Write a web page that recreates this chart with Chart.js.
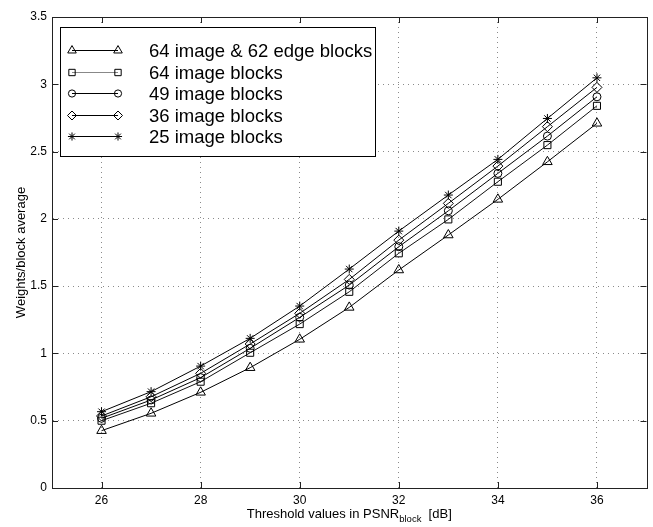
<!DOCTYPE html>
<html><head><meta charset="utf-8">
<script src="https://cdn.jsdelivr.net/npm/chart.js@4"></script>
<style>html,body{margin:0;padding:0;background:#fff;}#wrap{width:653px;height:527px;position:relative;}</style>
</head><body><div id="wrap"><canvas id="c" width="653" height="527"></canvas></div>
<script>
const thresholds = [26, 27, 28, 29, 30, 31, 32, 33, 34, 35, 36];
const blocks64edge = [0.426, 0.555, 0.711, 0.894, 1.105, 1.342, 1.620, 1.880, 2.145, 2.424, 2.710];
const blocks64 = [0.500, 0.630, 0.790, 1.005, 1.218, 1.458, 1.744, 1.996, 2.276, 2.548, 2.840];
const blocks49 = [0.518, 0.654, 0.820, 1.038, 1.268, 1.508, 1.793, 2.060, 2.338, 2.615, 2.907];
const blocks36 = [0.535, 0.678, 0.852, 1.070, 1.298, 1.550, 1.842, 2.115, 2.392, 2.685, 2.977];
const blocks25 = [0.567, 0.716, 0.906, 1.112, 1.352, 1.627, 1.909, 2.177, 2.442, 2.746, 3.048];
const seriesLabels = ['64 image & 62 edge blocks', '64 image blocks', '49 image blocks', '36 image blocks', '25 image blocks'];
const xTickValues = [26, 28, 30, 32, 34, 36];
const yTickValues = [0, 0.5, 1, 1.5, 2, 2.5, 3, 3.5];
const xTitle = 'Threshold values in PSNR';
const xTitleSub = 'block';
const xTitleTail = '[dB]';
const yTitle = 'Weights/block average';

const FONT = '"Liberation Sans", Arial, Helvetica, sans-serif';
const seriesValues = [blocks64edge, blocks64, blocks49, blocks36, blocks25];
const styles = [
  {pointStyle: 'triangle', radius: 5.5, color: '#000', legendColor: '#000'},
  {pointStyle: 'rect', radius: 5, color: '#111', legendColor: '#888'},
  {pointStyle: 'circle', radius: 4, color: '#000', legendColor: '#000'},
  {pointStyle: 'rectRot', radius: 5, color: '#000', legendColor: '#000'},
  {pointStyle: 'star', radius: 4.5, color: '#000', legendColor: '#000'}
];

const datasets = seriesValues.map((vals, i) => ({
  label: seriesLabels[i],
  data: thresholds.map((t, j) => ({x: t, y: vals[j]})),
  borderColor: styles[i].color,
  borderWidth: 1,
  backgroundColor: 'rgba(0,0,0,0)',
  pointStyle: styles[i].pointStyle,
  pointRadius: styles[i].radius,
  pointHoverRadius: styles[i].radius,
  pointBorderColor: '#000',
  pointBackgroundColor: 'rgba(0,0,0,0)',
  pointBorderWidth: 1,
  tension: 0,
  fill: false
}));

const framePlugin = {
  id: 'matlabFrame',
  afterDatasetsDraw(chart) {
    const ctx = chart.ctx;
    const a = chart.chartArea;
    const xs = chart.scales.x, ys = chart.scales.y;
    ctx.save();
    ctx.strokeStyle = '#222';
    ctx.lineWidth = 1;
    ctx.setLineDash([]);
    ctx.strokeRect(Math.round(a.left) + 0.5, Math.round(a.top) + 0.5, Math.round(a.right - a.left), Math.round(a.bottom - a.top));
    const tl = 6;
    ctx.beginPath();
    xTickValues.forEach(v => {
      const px = Math.round(xs.getPixelForValue(v)) + 0.5;
      ctx.moveTo(px, a.bottom); ctx.lineTo(px, a.bottom - tl);
      ctx.moveTo(px, a.top); ctx.lineTo(px, a.top + tl);
    });
    yTickValues.forEach(v => {
      const py = Math.round(ys.getPixelForValue(v)) + 0.5;
      ctx.moveTo(a.left, py); ctx.lineTo(a.left + tl, py);
      ctx.moveTo(a.right, py); ctx.lineTo(a.right - tl, py);
    });
    ctx.stroke();

    // Legend
    const L = {x: 60.5, y: 27.5, w: 315, h: 129};
    ctx.fillStyle = '#fff';
    ctx.fillRect(L.x, L.y, L.w, L.h);
    ctx.strokeStyle = '#000';
    ctx.strokeRect(L.x, L.y, L.w, L.h);
    const rowY0 = 50, rowDy = 21.5;
    ctx.font = '18.5px ' + FONT;
    ctx.textBaseline = 'middle';
    ctx.textAlign = 'left';
    seriesLabels.forEach((lab, i) => {
      const y = Math.round(rowY0 + i * rowDy) + 0.5;
      ctx.strokeStyle = styles[i].legendColor;
      ctx.lineWidth = 1;
      ctx.beginPath(); ctx.moveTo(72, y); ctx.lineTo(118, y); ctx.stroke();
      ctx.strokeStyle = '#000';
      ctx.fillStyle = 'rgba(0,0,0,0)';
      [72, 118].forEach(px => {
        Chart.helpers.drawPoint(ctx, {pointStyle: styles[i].pointStyle, radius: styles[i].radius * 0.9, rotation: 0, borderWidth: 1}, px, y);
      });
      ctx.fillStyle = '#000';
      ctx.fillText(lab, 149, y + 1);
    });

    // Axis titles
    ctx.fillStyle = '#000';
    ctx.textBaseline = 'alphabetic';
    const mainFont = '13px ' + FONT, subFont = '9.5px ' + FONT;
    ctx.font = mainFont;
    const w1 = ctx.measureText(xTitle).width;
    ctx.font = subFont;
    const w2 = ctx.measureText(xTitleSub).width;
    ctx.font = mainFont;
    const gap = ctx.measureText('  ').width;
    const w3 = ctx.measureText(xTitleTail).width;
    const total = w1 + w2 + gap + w3;
    let sx = (a.left + a.right) / 2 - total / 2;
    const by = 518;
    ctx.fillText(xTitle, sx, by);
    ctx.font = subFont;
    ctx.fillText(xTitleSub, sx + w1, by + 4);
    ctx.font = mainFont;
    ctx.fillText(xTitleTail, sx + w1 + w2 + gap, by);

    ctx.translate(21, (a.top + a.bottom) / 2);
    ctx.rotate(-Math.PI / 2);
    ctx.textAlign = 'center';
    ctx.textBaseline = 'middle';
    ctx.fillText(yTitle, 0, 0);
    ctx.restore();
  }
};

new Chart(document.getElementById('c'), {
  type: 'line',
  data: {datasets},
  options: {
    responsive: false,
    devicePixelRatio: 1,
    animation: false,
    events: [],
    layout: {padding: {top: 17, right: 4, left: 0, bottom: 0}},
    plugins: {legend: {display: false}, tooltip: {enabled: false}, title: {display: false}},
    scales: {
      x: {
        type: 'linear', min: 25, max: 37,
        afterBuildTicks: s => { s.ticks = xTickValues.map(v => ({value: v})); },
        afterFit: s => { s.height = 39; },
        ticks: {color: '#000', font: {family: FONT, size: 12}, padding: 5, maxRotation: 0, autoSkip: false, callback: v => String(v)},
        grid: {color: '#8a8a8a', lineWidth: 1, drawTicks: false},
        border: {display: true, color: '#222', width: 1, dash: [1, 4]}
      },
      y: {
        type: 'linear', min: 0, max: 3.5,
        afterBuildTicks: s => { s.ticks = yTickValues.map(v => ({value: v})); },
        afterFit: s => { s.width = 52; },
        ticks: {color: '#000', font: {family: FONT, size: 12}, padding: 5, autoSkip: false, callback: v => String(v)},
        grid: {color: '#8a8a8a', lineWidth: 1, drawTicks: false},
        border: {display: true, color: '#222', width: 1, dash: [1, 4]}
      }
    }
  },
  plugins: [framePlugin]
});
</script></body></html>
